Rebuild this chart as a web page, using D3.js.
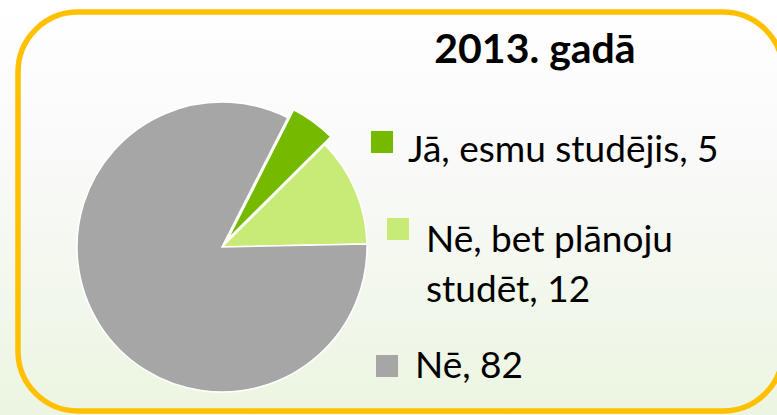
<!DOCTYPE html>
<html><head><meta charset="utf-8">
<script src="https://cdn.jsdelivr.net/npm/d3@7"></script>
<style>html,body{margin:0;padding:0;background:#fff;}svg{display:block;}</style>
</head><body>
<svg id="c" width="777" height="415"></svg>
<script>
const title = "2013. gadā";
const categories = ["Jā, esmu studējis", "Nē, bet plānoju studēt", "Nē"];
const values = [5, 12, 82];
const legendLines = [["Jā, esmu studējis, 5"], ["Nē, bet plānoju", "studēt, 12"], ["Nē, 82"]];
const colors = ["#75b900", "#c8eb78", "#a6a6a6"];

const svg = d3.select("#c");
const W = 777, H = 415;
const defs = svg.append("defs");
const g1 = defs.append("linearGradient").attr("id","bg").attr("x1",0).attr("y1",0).attr("x2",0).attr("y2",1);
g1.append("stop").attr("offset","0%").attr("stop-color","#ffffff");
g1.append("stop").attr("offset","35%").attr("stop-color","#fafafa");
g1.append("stop").attr("offset","100%").attr("stop-color","#ecf5e1");
svg.append("rect").attr("width",W).attr("height",H).attr("fill","url(#bg)");

svg.append("rect").attr("x",18).attr("y",12).attr("width",765).attr("height",399)
  .attr("rx",60).attr("ry",60).attr("fill","none").attr("stroke","#ffc000").attr("stroke-width",5.5);

const cx = 222, cy = 247, R = 145;
const pie = d3.pie().sort(null).startAngle(27*Math.PI/180).endAngle(27*Math.PI/180 + 2*Math.PI);
const arcs = pie(values);
const arc = d3.arc().innerRadius(0).outerRadius(R);
const explode = [10, 0, 0];
svg.append("g").attr("transform",`translate(${cx},${cy})`)
  .selectAll("path").data(arcs).join("path")
  .attr("d", arc)
  .attr("transform",(d,i)=>{const a=(d.startAngle+d.endAngle)/2; return `translate(${explode[i]*Math.sin(a)},${-explode[i]*Math.cos(a)})`;})
  .attr("fill",(d,i)=>colors[i]).attr("stroke","#ffffff").attr("stroke-width",1.5);

svg.append("text").attr("x",535).attr("y",63).attr("text-anchor","middle")
  .attr("font-family","Lato").attr("font-weight","bold").attr("font-size",41).attr("fill","#000").text(title);

const legendPos = [{sx:371, sy:131, tx:408, ty:162}, {sx:387, sy:218, tx:426, ty:252}, {sx:376, sy:355, tx:415, ty:378}];
const lg = svg.append("g").selectAll("g").data(categories).join("g");
lg.append("rect").attr("x",(d,i)=>legendPos[i].sx).attr("y",(d,i)=>legendPos[i].sy)
  .attr("width",22).attr("height",22).attr("fill",(d,i)=>colors[i]);
lg.each(function(d,i){
  const t = d3.select(this).append("text").attr("font-family","Lato").attr("font-size",37).attr("fill","#000");
  legendLines[i].forEach((ln,j)=>{
    t.append("tspan").attr("x",legendPos[i].tx).attr("y",legendPos[i].ty + j*50).text(ln);
  });
});
</script>
</body></html>
